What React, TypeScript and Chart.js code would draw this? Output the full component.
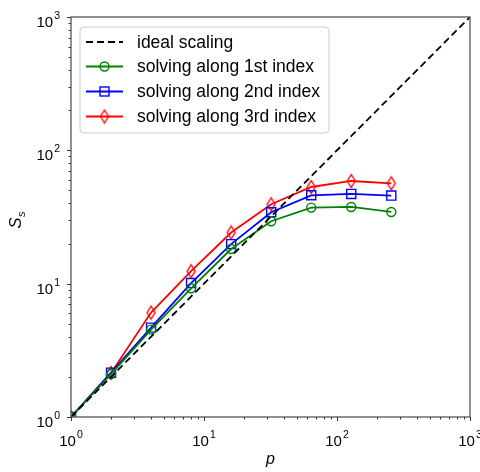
import React, { useEffect, useRef } from "react";
import { Chart, registerables } from "chart.js";

Chart.register(...registerables);

const processors = [1, 2, 4, 8, 16, 32, 64, 128, 256];
const idealX = [1, 1000];
const idealY = [1, 1000];
const speedup1st = [1, 2.1, 4.52, 9.23, 18.2, 29.4, 37.2, 37.6, 34.5];
const speedup2nd = [1, 2.15, 4.68, 10.1, 19.8, 34.3, 46.0, 47.1, 45.8];
const speedup3rd = [1, 2.14, 6.07, 12.4, 24.2, 39.4, 53.1, 58.9, 56.6];
const decadeTicks = [1, 10, 100, 1000];
const seriesLabels = [
  "ideal scaling",
  "solving along 1st index",
  "solving along 2nd index",
  "solving along 3rd index",
];

const FONT = "'Liberation Sans', Arial, sans-serif";

function makeDiamond(color: string): HTMLCanvasElement {
  const c = document.createElement("canvas");
  c.width = 12;
  c.height = 16;
  const ctx = c.getContext("2d")!;
  ctx.strokeStyle = color;
  ctx.lineWidth = 1.4;
  ctx.beginPath();
  ctx.moveTo(6, 1.5);
  ctx.lineTo(10, 8);
  ctx.lineTo(6, 14.5);
  ctx.lineTo(2, 8);
  ctx.closePath();
  ctx.stroke();
  return c;
}

function drawPow(ctx: CanvasRenderingContext2D, exp: number, x: number, y: number, align: "center" | "right") {
  const base = "10";
  const e = String(Math.round(exp));
  ctx.font = `15px ${FONT}`;
  const wb = ctx.measureText(base).width;
  ctx.font = `10.5px ${FONT}`;
  const we = ctx.measureText(e).width + 1;
  const total = wb + we;
  const left = align === "center" ? x - total / 2 : x - total;
  ctx.textAlign = "left";
  ctx.textBaseline = "alphabetic";
  ctx.fillStyle = "#000";
  ctx.font = `15px ${FONT}`;
  ctx.fillText(base, left, y);
  ctx.font = `10.5px ${FONT}`;
  ctx.fillText(e, left + wb + 1, y - 8);
}

export default function App() {
  const ref = useRef<HTMLCanvasElement | null>(null);

  useEffect(() => {
    document.body.style.margin = "0";
    const canvas = ref.current!;
    const diamond = makeDiamond("#ff0000");

    const axesPlugin = {
      id: "mplAxes",
      afterDatasetsDraw(chart: any) {
        const ctx: CanvasRenderingContext2D = chart.ctx;
        const { left, right, top, bottom } = chart.chartArea;
        const xs = chart.scales.x;
        const ys = chart.scales.y;
        ctx.save();
        ctx.strokeStyle = "#555";
        ctx.lineWidth = 1.3;
        ctx.strokeRect(left, top, right - left, bottom - top);
        // ticks
        ctx.lineWidth = 1;
        ctx.strokeStyle = "#333";
        for (let d = 0; d < 3; d++) {
          for (let m = 1; m <= 10; m++) {
            const v = Math.pow(10, d) * m;
            if (m === 10 && d < 2) continue;
            const major = m === 1 || m === 10;
            const len = major ? 4 : 2.5;
            const px = Math.round(xs.getPixelForValue(v)) + 0.5;
            ctx.beginPath();
            ctx.moveTo(px, bottom);
            ctx.lineTo(px, bottom + len);
            ctx.stroke();
            const py = Math.round(ys.getPixelForValue(v)) + 0.5;
            ctx.beginPath();
            ctx.moveTo(left, py);
            ctx.lineTo(left - len, py);
            ctx.stroke();
          }
        }
        // labels
        for (const v of decadeTicks) {
          const ex = Math.log10(v);
          drawPow(ctx, ex, xs.getPixelForValue(v), bottom + 29, "center");
          drawPow(ctx, ex, left - 11, ys.getPixelForValue(v) + 10, "right");
        }
        // axis titles
        ctx.fillStyle = "#000";
        ctx.font = `italic 16px ${FONT}`;
        ctx.textAlign = "center";
        ctx.textBaseline = "alphabetic";
        ctx.fillText("p", (left + right) / 2, bottom + 47);
        ctx.save();
        ctx.translate(21, (top + bottom) / 2 + 3);
        ctx.rotate(-Math.PI / 2);
        ctx.textAlign = "left";
        ctx.font = `italic 16.5px ${FONT}`;
        const ws = ctx.measureText("S").width;
        ctx.fillText("S", -ws / 2 - 3, 0);
        ctx.font = `italic 11px ${FONT}`;
        ctx.fillText("s", ws / 2 - 3 + 0.5, 4);
        ctx.restore();

        // legend
        const lx = 80, ly = 27, lw = 249, lh = 106;
        ctx.beginPath();
        const r = 4;
        ctx.moveTo(lx + r, ly);
        ctx.lineTo(lx + lw - r, ly);
        ctx.quadraticCurveTo(lx + lw, ly, lx + lw, ly + r);
        ctx.lineTo(lx + lw, ly + lh - r);
        ctx.quadraticCurveTo(lx + lw, ly + lh, lx + lw - r, ly + lh);
        ctx.lineTo(lx + r, ly + lh);
        ctx.quadraticCurveTo(lx, ly + lh, lx, ly + lh - r);
        ctx.lineTo(lx, ly + r);
        ctx.quadraticCurveTo(lx, ly, lx + r, ly);
        ctx.closePath();
        ctx.fillStyle = "rgba(255,255,255,0.85)";
        ctx.fill();
        ctx.strokeStyle = "#cccccc";
        ctx.lineWidth = 1;
        ctx.stroke();

        const rows = [42, 66.5, 91.5, 116.5];
        chart.data.datasets.forEach((ds: any, i: number) => {
          const yy = rows[i];
          ctx.save();
          ctx.strokeStyle = ds.borderColor;
          ctx.lineWidth = ds.borderWidth;
          ctx.setLineDash(ds.borderDash || []);
          ctx.beginPath();
          ctx.moveTo(86, yy);
          ctx.lineTo(123, yy);
          ctx.stroke();
          ctx.setLineDash([]);
          ctx.lineWidth = 1.4;
          const cx = 104.5;
          if (i === 1) {
            ctx.beginPath();
            ctx.arc(cx, yy, 4.5, 0, Math.PI * 2);
            ctx.stroke();
          } else if (i === 2) {
            ctx.strokeRect(cx - 4.5, yy - 4.5, 9, 9);
          } else if (i === 3) {
            ctx.drawImage(diamond, cx - 6, yy - 8);
          }
          ctx.restore();
          ctx.fillStyle = "#000";
          ctx.font = `17.5px ${FONT}`;
          ctx.textAlign = "left";
          ctx.textBaseline = "middle";
          ctx.fillText(seriesLabels[i], 137, yy + 1);
        });
        ctx.restore();
      },
    };

    const toPts = (xs: number[], ys: number[]) => xs.map((x, i) => ({ x, y: ys[i] }));

    const chart = new Chart(canvas, {
      type: "line",
      data: {
        datasets: [
          {
            label: seriesLabels[0],
            data: toPts(idealX, idealY),
            borderColor: "#000000",
            borderWidth: 1.8,
            borderDash: [7, 4],
            pointRadius: 0,
            clip: 0,
          } as any,
          {
            label: seriesLabels[1],
            data: toPts(processors, speedup1st),
            borderColor: "#008000",
            borderWidth: 1.8,
            pointStyle: "circle",
            pointRadius: 4.5,
            pointBorderWidth: 1.4,
            pointBackgroundColor: "rgba(0,0,0,0)",
            pointBorderColor: "#008000",
            clip: 0,
          },
          {
            label: seriesLabels[2],
            data: toPts(processors, speedup2nd),
            borderColor: "#0000ff",
            borderWidth: 1.8,
            pointStyle: "rect",
            pointRadius: 6.4,
            pointBorderWidth: 1.4,
            pointBackgroundColor: "rgba(0,0,0,0)",
            pointBorderColor: "#0000ff",
            clip: 0,
          },
          {
            label: seriesLabels[3],
            data: toPts(processors, speedup3rd),
            borderColor: "#ff0000",
            borderWidth: 1.8,
            pointStyle: diamond,
            pointRadius: 6,
            clip: 0,
          },
        ],
      },
      options: {
        responsive: false,
        animation: false,
        events: [],
        layout: { padding: { left: 71, right: 10, top: 17, bottom: 55 } },
        plugins: { legend: { display: false }, tooltip: { enabled: false } },
        scales: {
          x: { type: "logarithmic", min: 1, max: 1000, display: false },
          y: { type: "logarithmic", min: 1, max: 1000, display: false },
        },
      },
      plugins: [axesPlugin],
    });
    return () => chart.destroy();
  }, []);

  return (
    <div style={{ width: 480, height: 472 }}>
      <canvas ref={ref} width={480} height={472} />
    </div>
  );
}
